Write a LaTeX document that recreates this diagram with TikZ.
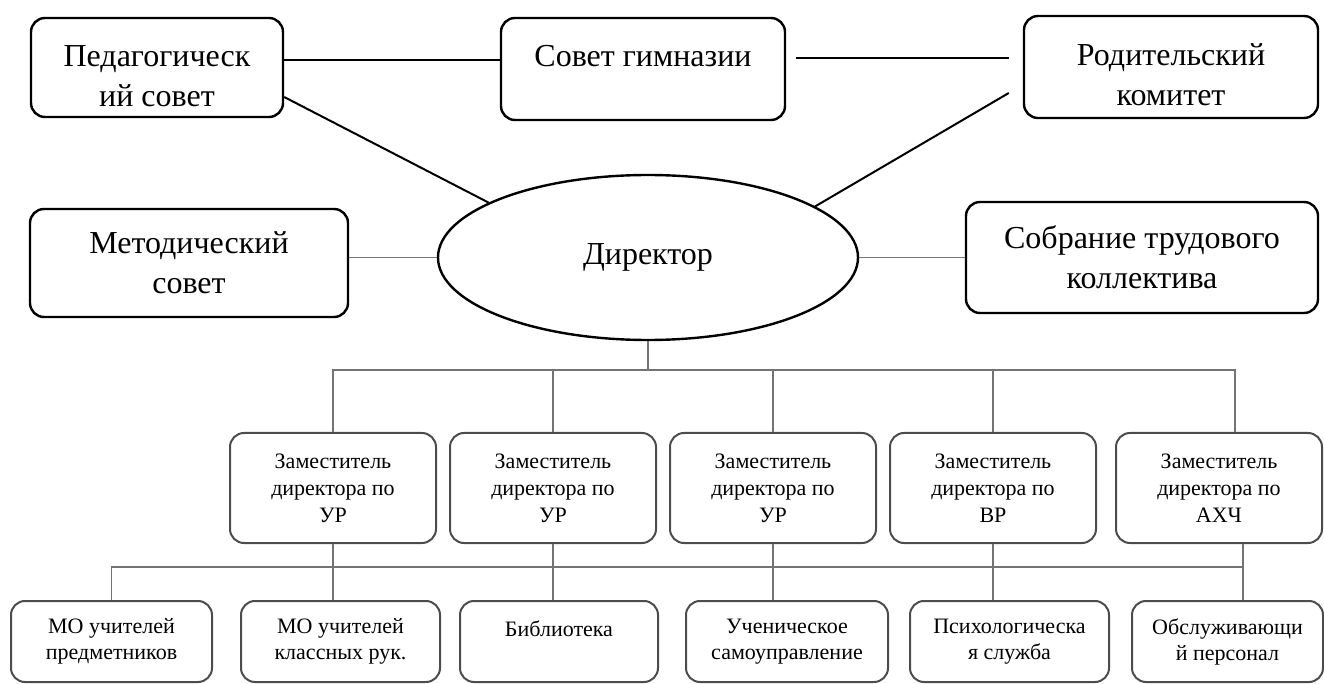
\documentclass[tikz,border=0pt]{standalone}
\usepackage{fontspec}
\setmainfont{Liberation Serif}
\usetikzlibrary{shapes.geometric}

\begin{document}
\begin{tikzpicture}[x=0.5pt, y=-0.5pt]
				%\draw[help lines] (0,0) grid (1324,684);
				\tikzset{
				topbox/.style 	= {draw, line width=1.2pt, rounded corners=7pt, align=center,
				inner sep=0pt, font=\fontsize{16}{20}\selectfont},
				depbox/.style 	= {draw=black!70, line width=1pt, rounded corners=7pt, align=center,
				inner sep=0pt, minimum width=103pt, minimum height=55pt,
				font=\fontsize{11}{13.5}\selectfont},
				unitbox/.style 	= {depbox, minimum height=40.5pt, font=\fontsize{11}{13}\selectfont},
				boldlink/.style = {line width=1pt, black},
				thinlink/.style = {line width=0.6pt, black!55}}
				
				\useasboundingbox (0,0) rectangle (1324,684);
				
				\node[topbox, minimum width=126pt, minimum height=49.5pt] (ped) at (157,67.5) {\rule{0pt}{19pt}Педагогическ\\ий совет};
				\node[topbox, minimum width=142pt, minimum height=51pt] (sovet) at (643,69) {Совет гимназии\rule[-13pt]{0pt}{13pt}};
				\node[topbox, minimum width=147pt, minimum height=51pt] (rodit) at (1171,67) {\rule{0pt}{19pt}Родительский\\комитет};
				\node[topbox, minimum width=159pt, minimum height=54pt] (metod) at (189,263) {Методический\\совет};
				\node[topbox, minimum width=176pt, minimum height=55.5pt] (sobr) at (1142,257.5) {Собрание трудового\\коллектива};
				\node[topbox, ellipse, minimum width=210pt, minimum height=82.5pt] (dir) at (648,257.5) {Директор};
				
				\node[depbox] (dep1) at (333,488) {Заместитель\\директора по\\УР};
				\node[depbox] (dep2) at (553,488) {Заместитель\\директора по\\УР};
				\node[depbox] (dep3) at (773,488) {Заместитель\\директора по\\УР};
				\node[depbox] (dep4) at (993,488) {Заместитель\\директора по\\ВР};
				\node[depbox] (dep5) at (1219,488) {Заместитель\\директора по\\АХЧ};
				
				\node[unitbox, minimum width=100.5pt] (mo1) at (111.5,641.5) {МО учителей\\предметников};
				\node[unitbox, minimum width=99.5pt] (mo2) at (340.5,641.5) {МО учителей\\классных рук.};
				\node[unitbox, minimum width=99pt] (bibl) at (559,641.5) {Библиотека\\~};
				\node[unitbox, minimum width=101pt] (samo) at (787,641.5) {Ученическое\\самоуправление};
				\node[unitbox, minimum width=99.5pt] (psih) at (1009.5,641.5) {Психологическа\\я служба};
				\node[unitbox, minimum width=95.5pt] (obsl) at (1227.5,641.5) {Обслуживающи\\й персонал};
				
				\coordinate (upbus) at (0,370);
				\coordinate (lowbus) at (0,567);
				
				\draw[boldlink] ([yshift=3.75pt]ped.east) -- ([yshift=3.75pt]ped.east -| sovet.west);
				\draw[boldlink] ([xshift=5pt,yshift=5.5pt]sovet.east) -- ([xshift=-7pt,yshift=5.5pt]sovet.east -| rodit.west);
				\draw[boldlink] ([yshift=-14.75pt]ped.east) -- (dir.161);
				\draw[boldlink] (dir.17) -- ([xshift=-7pt,yshift=-13pt]rodit.west);
				\draw[thinlink] (dir.west) -- (dir.west -| metod.east);
				\draw[thinlink] (dir.east) -- (dir.east -| sobr.west);
				
				\draw[thinlink] (dir.south) -- (dir.south |- upbus);
				\draw[thinlink] (dep1.north) |- ([xshift=8pt]dep5.north |- upbus) -- ([xshift=8pt]dep5.north);
				\draw[thinlink] (dep2.north) -- (dep2.north |- upbus);
				\draw[thinlink] (dep3.north) -- (dep3.north |- upbus);
				\draw[thinlink] (dep4.north) -- (dep4.north |- upbus);
				
				\draw[thinlink] (mo1.north) |- ([xshift=12pt]dep5.south |- lowbus);
				\draw[thinlink] (dep1.south) -- (dep1.south |- mo2.north);
				\draw[thinlink] (dep2.south) -- (dep2.south |- bibl.north);
				\draw[thinlink] (dep3.south) -- (dep3.south |- samo.north);
				\draw[thinlink] (dep4.south) -- (dep4.south |- psih.north);
				\draw[thinlink] ([xshift=12pt]dep5.south) -- ([xshift=12pt]dep5.south |- obsl.north);
\end{tikzpicture}
\end{document}
